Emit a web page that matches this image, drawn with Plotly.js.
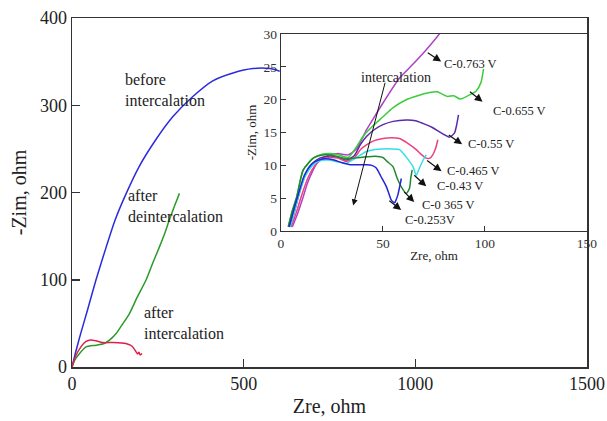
<!DOCTYPE html>
<html><head><meta charset="utf-8">
<script src="https://cdn.plot.ly/plotly-3.0.1.min.js"></script>
<style>body{margin:0;padding:0;background:#fff}#plot{width:607px;height:421px}</style>
</head><body><div id="plot"></div>
<script>
// Main plot data (Zre, -Zim in ohm)
const beforeX = [0,10,25,45,70,100,125,158,196,245,294,352,410,469,527,576,605];
const beforeY = [0,16,38,65,100,138,168,199,230,261,287,310,328,337,342,342,339];
const deintX = [0,8,21,41,70,94,110,128,147,167,190,216,235,255,270,284,298,313];
const deintY = [0,8,15,23,25,27,31,38,49,61,80,100,119,138,153,169,184,199];
const interX = [0,10,26,40,55,70,89,120,157,170,177,184,191,195,198,201,204];
const interY = [0,12,23,29,31,30,28,28,27,25,23,19,15,17,14,14.5,15.5];

// Inset data
const c763X = [5.5,8,10.9,13,15.8,18,20.7,24,28,33,37,41.9,46,50,58.1,65,71.2,79.3,82];
const c763Y = [0.6,2.5,5.2,7.3,9.3,10.5,11.1,11.6,11.8,11.6,12.5,15.4,17.5,19.5,23.3,25.5,27.6,30.7,32];
const c655X = [3.6,5.5,7.7,10.9,15.8,19,23.9,28,33,37,40.2,45,50,55,61.4,67,72.8,76.6,81.5,84.7,87.9,92.8,95.6,98,99.3];
const c655Y = [0.65,3,5.2,9.3,11.1,11.6,11.8,11.6,11.2,12.8,14.4,16,17.4,18.8,20,20.6,21.1,21.2,20.5,20.6,20.1,20.8,21.3,22.6,24.7];
const c55X = [4.5,6.5,9,12,15.5,19,23,27,32,36,39,41.9,46,50,55,61.4,66,69.5,74,77.7,80.5,82.6,85,86,87];
const c55Y = [0.6,2.8,5.8,8.6,10.3,11.1,11.4,11.3,10.8,11.5,13.2,14.4,15.5,16.2,16.7,16.9,16.8,16.4,15.8,15.1,14.6,14.3,14.9,16,17.7];
const c465X = [5,7.5,10.5,13.5,16.5,20,24,28,32,36,39,41.9,46,50,54,58.1,62,66.3,69,71.2,73,74.4,75.8,76.9];
const c465Y = [0.6,2.8,5.8,8.3,9.9,10.9,11.2,11.1,10.6,11.2,12.4,13.1,13.8,14.1,14.2,14.1,13.4,12.4,11.6,11.1,11.1,11.6,12.6,13.9];
const c43X = [4.5,6.5,9,12,15.5,19,23,27,32,36,41.9,46,50,54,58.1,61,64.7,66.3,67.9,69.5,71.2];
const c43Y = [0.6,2.8,5.8,8.4,10,10.7,10.8,10.6,10.3,11,12.1,12.4,12.5,12.5,12.4,11.4,9.8,8.5,9.6,10.7,11.6];
const c365X = [3.6,5.5,7.7,10.9,15.8,19,22.3,27,32,36,41.9,46,50,52,54.9,57,59.8,61.4,63,63.6,64.3];
const c365Y = [0.65,3,5.2,9.3,11.1,11.5,11.6,11.4,11,11.1,11.3,11.4,11.2,10.6,9.8,8,6.3,5.7,6.5,8,9.3];
const c253X = [4,6,8.5,11.5,15,18.5,22,26,30,34,38,41.9,44.5,46.7,49,51.6,53,54.1,55.7,56.5,57.3,58.2,59];
const c253Y = [0.6,2.9,5.6,8.5,10.2,10.8,11,10.8,10.4,10.1,10.1,10.1,10,9.6,8.3,6.8,5.6,4.7,4.3,4.8,5.5,6.8,8];

const serif = "Liberation Serif, Times New Roman, serif";
function ln(x,y,c,xa,ya){return {x:x,y:y,type:'scatter',mode:'lines',line:{color:c,width:1.5,shape:'spline',smoothing:0.6},xaxis:xa,yaxis:ya,showlegend:false,hoverinfo:'skip'};}

const traces = [
  ln(beforeX,beforeY,'#2b2bdc','x','y'),
  ln(deintX,deintY,'#2a9a2a','x','y'),
  ln(interX,interY,'#e0204a','x','y'),
  ln(c763X,c763Y,'#b040c8','x2','y2'),
  ln(c655X,c655Y,'#3ccc3c','x2','y2'),
  ln(c55X,c55Y,'#5a2aa8','x2','y2'),
  ln(c465X,c465Y,'#ec4080','x2','y2'),
  ln(c43X,c43Y,'#30e0e8','x2','y2'),
  ln(c365X,c365Y,'#1e8a2e','x2','y2'),
  ln(c253X,c253Y,'#2424d8','x2','y2')
];

// inset labels: text, label x, label y, arrow tail x,y, head x,y (inset data units)
const labelText = ['C-0.763 V','C-0.655 V','C-0.55 V','C-0.465 V','C-0.43 V','C-0 365 V','C-0.253V'];
const labelX = [79.5,103.5,91,81,76,68.5,60.5];
const labelY = [25.5,18.3,13.3,9.2,6.9,4.0,1.6];
const arrTailX = [71.2,91.9,81.5,70.9,64.6,59.7,52.4];
const arrTailY = [27.3,21.4,14.8,10.9,8.7,6.2,4.8];
const arrHeadX = [78.5,98.8,88.8,78.7,71.2,65.3,58.9];
const arrHeadY = [25.8,19.7,13.2,9.1,6.8,4.4,3.2];

const anns = [];
for (let i=0;i<labelText.length;i++){
  anns.push({xref:'x2',yref:'y2',x:labelX[i],y:labelY[i],text:labelText[i],showarrow:false,xanchor:'left',yanchor:'middle',borderpad:0,font:{family:serif,size:12.5,color:'#222'}});
  anns.push({xref:'x2',yref:'y2',axref:'x2',ayref:'y2',x:arrHeadX[i],y:arrHeadY[i],ax:arrTailX[i],ay:arrTailY[i],text:'',showarrow:true,arrowhead:2,arrowsize:1.3,arrowwidth:1.2,arrowcolor:'#111'});
}
anns.push({xref:'x2',yref:'y2',x:56.5,y:23.4,text:'intercalation',showarrow:false,xanchor:'center',yanchor:'middle',font:{family:serif,size:14,color:'#222'}});
anns.push({xref:'x2',yref:'y2',axref:'x2',ayref:'y2',x:35.4,y:3.9,ax:51.2,ay:22.8,text:'',showarrow:true,arrowhead:2,arrowsize:1.2,arrowwidth:1,arrowcolor:'#111'});
// main labels
const mainLab = [['before<br>intercalation',148,317],['after<br>deintercalation',158,184],['after<br>intercalation',205,50]];
mainLab.forEach(m=>anns.push({xref:'x',yref:'y',x:m[1],y:m[2],text:m[0],showarrow:false,xanchor:'left',yanchor:'middle',align:'left',font:{family:serif,size:16,color:'#222'}}));

const axMain = {showline:true,mirror:true,linecolor:'#333',linewidth:1.5,ticks:'inside',ticklen:8,tickwidth:1.5,tickcolor:'#333',showgrid:false,zeroline:false,tickfont:{family:serif,size:18,color:'#222'}};
const axIn = {showline:true,mirror:true,linecolor:'#333',linewidth:1.3,ticks:'inside',ticklen:5,tickwidth:1,tickcolor:'#333',showgrid:false,zeroline:false,tickfont:{family:serif,size:13.5,color:'#333'}};

const layout = {
  width:607,height:421,margin:{l:72,r:20,t:18,b:54},
  paper_bgcolor:'#fff',plot_bgcolor:'#fff',
  xaxis:Object.assign({},axMain,{range:[0,1500],tickvals:[0,500,1000,1500],domain:[0,1],anchor:'y',title:{text:'Zre, ohm',font:{family:serif,size:20,color:'#222'},standoff:6}}),
  yaxis:Object.assign({},axMain,{range:[0,400],tickvals:[0,100,200,300,400],domain:[0,1],anchor:'x',title:{text:'-Zim, ohm',font:{family:serif,size:20,color:'#222'},standoff:8}}),
  xaxis2:Object.assign({},axIn,{range:[0,150],tickvals:[0,50,100,150],domain:[0.4058,1],anchor:'y2',title:{text:'Zre, ohm',font:{family:serif,size:13,color:'#222'},standoff:0}}),
  yaxis2:Object.assign({},axIn,{range:[0,30],tickvals:[0,5,10,15,20,25,30],domain:[0.3897,0.954],anchor:'x2',title:{text:'-Zim, ohm',font:{family:serif,size:13,color:'#222'},standoff:4}}),
  annotations:anns,
  showlegend:false
};
Plotly.newPlot('plot',traces,layout,{staticPlot:true});
</script></body></html>
